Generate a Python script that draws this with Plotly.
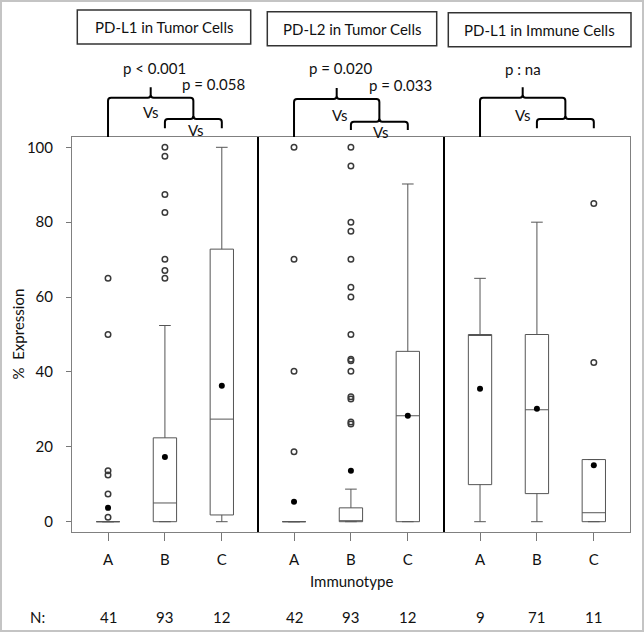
import plotly.graph_objects as go

# ---------------- data ----------------
groups = ["PD-L1 in Tumor Cells", "PD-L2 in Tumor Cells", "PD-L1 in Immune Cells"]
types = ["A", "B", "C"]
n_counts = [[41, 93, 12], [42, 93, 12], [9, 71, 11]]

q1_vals = [[0, 0, 1.8], [0, 0, 0], [9.9, 7.5, 0]]
median_vals = [[0, 5.0, 27.4], [0, 0, 28.3], [50, 29.9, 2.4]]
q3_vals = [[0, 22.4, 72.8], [0, 3.7, 45.5], [50, 50, 16.6]]
lower_vals = [[0, 0, 0], [0, 0, 0], [0, 0, 0]]
upper_vals = [[0, 52.4, 100], [0, 8.7, 90.2], [65, 80, 16.6]]
mean_vals = [[3.7, 17.3, 36.3], [5.3, 13.6, 28.3], [35.5, 30.2, 15.1]]

outliers_pdl1_tumor = [[65, 50, 13.6, 12.5, 7.4, 1.2],
                       [100, 97.6, 87.4, 82.6, 70.1, 67.1, 65.0],
                       []]
outliers_pdl2_tumor = [[100, 70.1, 40.2, 18.7],
                       [100, 95.0, 80.0, 77.6, 70.1, 62.6, 60.0, 50.0, 43.4, 43.0,
                        40.2, 33.4, 32.8, 26.6, 26.1],
                       []]
outliers_pdl1_immune = [[], [], [85.0, 42.5]]
outliers = [outliers_pdl1_tumor, outliers_pdl2_tumor, outliers_pdl1_immune]

p_values = [["p < 0.001", "p = 0.058"], ["p = 0.020", "p = 0.033"], ["p : na", ""]]
y_ticks = [0, 20, 40, 60, 80, 100]

# ---------------- geometry helpers ----------------
W, H = 644, 632
L, R, T, B = 72, 630, 137, 532
PANEL = 3.269          # panel width in x units
X0 = -0.633
X1 = X0 + 3 * PANEL


def xp(px):
    return (px - L) / (R - L)


def yp(py):
    return (B - py) / (B - T)


def pos(g, c):
    return g * PANEL + c


fig = go.Figure()

xs, q1, med, q3, lo, up, mx, my, ox, oy = [], [], [], [], [], [], [], [], [], []
for g in range(3):
    for c in range(3):
        x = pos(g, c)
        xs.append(x)
        q1.append(q1_vals[g][c]); med.append(median_vals[g][c]); q3.append(q3_vals[g][c])
        lo.append(lower_vals[g][c]); up.append(upper_vals[g][c])
        mx.append(x); my.append(mean_vals[g][c])
        for v in outliers[g][c]:
            ox.append(x); oy.append(v)

fig.add_trace(go.Box(
    x=xs, q1=q1, median=med, q3=q3, lowerfence=lo, upperfence=up,
    width=0.41, whiskerwidth=0.5, boxpoints=False,
    fillcolor="white", line=dict(color="#555555", width=1),
    showlegend=False, hoverinfo="skip"))

fig.add_trace(go.Scatter(
    x=ox, y=oy, mode="markers", showlegend=False,
    marker=dict(symbol="circle-open", size=5.5, color="#3a3a3a",
                line=dict(width=1.5, color="#3a3a3a"))))

fig.add_trace(go.Scatter(
    x=mx, y=my, mode="markers", showlegend=False,
    marker=dict(symbol="circle", size=6, color="black")))

shapes = []
annotations = []

# panel dividers
for g in (1, 2):
    xd = X0 + g * PANEL
    shapes.append(dict(type="line", xref="x", yref="paper", x0=xd, x1=xd, y0=0, y1=1,
                       line=dict(color="black", width=2)))

# title boxes
title_boxes = [(77.3, 250.7, 10, 44), (267.3, 436.7, 11.7, 45.7), (448.3, 631, 12.7, 46.7)]
for g, (a, b, c, d) in enumerate(title_boxes):
    shapes.append(dict(type="rect", xref="paper", yref="paper",
                       x0=xp(a), x1=xp(b), y0=yp(d), y1=yp(c),
                       line=dict(color="#333", width=1.5)))
    annotations.append(dict(text=groups[g], xref="paper", yref="paper",
                            x=xp((a + b) / 2), y=yp((c + d) / 2), showarrow=False,
                            font=dict(family="Lato", size=15, color="#111"),
                            xanchor="center", yanchor="middle"))

# brackets
r_px = 3.0
rx = r_px / 56.9
bracket_y = [(97.7, 87.3, 119, 128.3), (99, 88, 121.7, 130), (97.7, 87.3, 119, 128.3)]


def P(x, ypx):
    return f"{x:.4f},{yp(ypx):.5f}"


for g in range(3):
    yh, ytip, ys, ysb = bracket_y[g]
    xa, xb, xc = pos(g, 0), pos(g, 1), pos(g, 2)
    xm = (xb + xc) / 2
    xcen = (xa + xm) / 2
    path = (f"M {P(xa, T)} L {P(xa, yh + r_px)} Q {P(xa, yh)} {P(xa + rx, yh)} "
            f"L {P(xcen - rx, yh)} Q {P(xcen, yh)} {P(xcen, yh - r_px)} L {P(xcen, ytip)} "
            f"M {P(xcen, yh - r_px)} Q {P(xcen, yh)} {P(xcen + rx, yh)} "
            f"L {P(xm - rx, yh)} Q {P(xm, yh)} {P(xm, yh + r_px)} L {P(xm, ys)}")
    shapes.append(dict(type="path", xref="x", yref="paper", path=path,
                       line=dict(color="black", width=2)))
    path2 = (f"M {P(xb, ysb)} L {P(xb, ys + r_px)} Q {P(xb, ys)} {P(xb + rx, ys)} "
             f"L {P(xm - rx, ys)} Q {P(xm, ys)} {P(xm, ys - r_px)} "
             f"M {P(xm, ys - r_px)} Q {P(xm, ys)} {P(xm + rx, ys)} "
             f"L {P(xc - rx, ys)} Q {P(xc, ys)} {P(xc, ys + r_px)} L {P(xc, ysb)}")
    shapes.append(dict(type="path", xref="x", yref="paper", path=path2,
                       line=dict(color="black", width=2)))

# p-value and Vs labels
pv_pos = [[(0.82, 68), (1.86, 84)], [(0.82, 68), (1.88, 85)], [(0.76, 69), None]]
vs_pos = [[(0.76, 112), (1.55, 130)], [(0.80, 115), (1.53, 132)], [(0.75, 115), None]]
for g in range(3):
    for k in range(2):
        if pv_pos[g][k] is not None and p_values[g][k]:
            dx, ypx = pv_pos[g][k]
            annotations.append(dict(text=p_values[g][k], xref="x", yref="paper",
                                    x=pos(g, 0) + dx, y=yp(ypx), showarrow=False,
                                    font=dict(family="Lato", size=15, color="#111"),
                                    xanchor="center", yanchor="middle"))
        if vs_pos[g][k] is not None:
            dx, ypx = vs_pos[g][k]
            annotations.append(dict(text="Vs", xref="x", yref="paper",
                                    x=pos(g, 0) + dx, y=yp(ypx), showarrow=False,
                                    font=dict(family="Lato", size=15, color="#111"),
                                    xanchor="center", yanchor="middle"))

# N counts
annotations.append(dict(text="N:", xref="paper", yref="paper", x=xp(37), y=yp(617),
                        showarrow=False, font=dict(family="Lato", size=15, color="#111"),
                        xanchor="center", yanchor="middle"))
for g in range(3):
    for c in range(3):
        annotations.append(dict(text=str(n_counts[g][c]), xref="x", yref="paper",
                                x=pos(g, c), y=yp(617), showarrow=False,
                                font=dict(family="Lato", size=15, color="#111"),
                                xanchor="center", yanchor="middle"))

# axis titles
annotations.append(dict(text="Immunotype", xref="paper", yref="paper", x=0.5, y=yp(581),
                        showarrow=False, font=dict(family="Lato", size=15, color="#111"),
                        xanchor="center", yanchor="middle"))
annotations.append(dict(text="%  Expression", xref="paper", yref="paper", x=xp(17), y=0.5,
                        showarrow=False, textangle=-90,
                        font=dict(family="Lato", size=15, color="#111"),
                        xanchor="center", yanchor="middle"))

# outer border
shapes.append(dict(type="rect", xref="paper", yref="paper",
                   x0=xp(1), x1=xp(643), y0=yp(631), y1=yp(1),
                   line=dict(color="#c4c4c4", width=2)))

fig.update_layout(
    width=W, height=H,
    margin=dict(l=L, r=W - R, t=T, b=H - B),
    paper_bgcolor="white", plot_bgcolor="white",
    shapes=shapes, annotations=annotations,
    font=dict(family="Lato", size=15, color="#111"),
    xaxis=dict(range=[X0, X1], showgrid=False, zeroline=False,
               tickvals=[pos(g, c) for g in range(3) for c in range(3)],
               ticktext=types * 3, ticks="outside", ticklen=8, tickcolor="#777",
               showline=True, mirror=True, linecolor="#808080", linewidth=1,
               tickfont=dict(family="Lato", size=15, color="#111"), ticklabelstandoff=6),
    yaxis=dict(range=[-2.75, 102.75], showgrid=False, zeroline=False,
               tickvals=y_ticks, ticks="outside", ticklen=5, tickcolor="#777",
               showline=True, mirror=True, linecolor="#808080", linewidth=1,
               tickfont=dict(family="Lato", size=15, color="#111"), ticklabelstandoff=10),
)

fig.write_html("out.html", config={"displayModeBar": False},
               post_script="document.body.style.margin='0';document.body.style.overflow='hidden';")
